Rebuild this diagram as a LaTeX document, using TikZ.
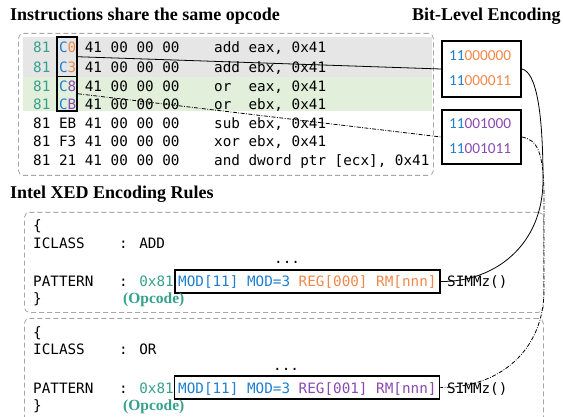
\documentclass[tikz,border=0pt]{standalone}
\usepackage{fontspec}
\setmainfont{Liberation Serif}
\newfontfamily\monof{DejaVu Sans Mono}[WordSpace={1,0,0}]
\newfontfamily\carlf{Carlito}
\definecolor{cblue}{HTML}{1E7FD0}
\definecolor{corange}{HTML}{F0884A}
\definecolor{cpurple}{HTML}{8A4AB0}
\definecolor{cteal}{HTML}{36A08C}
\definecolor{bandgray}{HTML}{E6E6E6}
\definecolor{bandgreen}{HTML}{E2EFDA}
\definecolor{pgray}{HTML}{A6A6A6}
\begin{document}
\begin{tikzpicture}[x=1pt,y=-1pt,
  mono/.style={anchor=base west, inner sep=0pt, font=\monof\fontsize{14.3}{16}\selectfont},
  ttl/.style={anchor=base west, inner sep=0pt, font=\bfseries\fontsize{18}{20}\selectfont},
  opc/.style={anchor=base west, inner sep=0pt, text=cteal, font=\bfseries\fontsize{15.5}{17}\selectfont},
  bits/.style={anchor=base west, inner sep=0pt, font=\carlf\fontsize{15.3}{17}\selectfont},
  panel/.style={draw=pgray, line width=0.8pt, dash pattern=on 5pt off 3pt, rounded corners=5pt, anchor=north west, inner sep=0pt},
  band/.style={anchor=north west, inner sep=0pt, minimum width=409pt},
  selbox/.style={draw=black, line width=1.8pt, inner sep=0pt, minimum width=20pt},
  bitbox/.style={draw=black, line width=1.8pt, inner sep=0pt, minimum width=79pt},
  patbox/.style={draw=black, line width=1.6pt, inner sep=0pt, minimum width=265pt, minimum height=23pt},
  link/.style={line width=0.8pt},
  dd/.style={line width=0.8pt, dash pattern=on 4pt off 1.5pt on 0.8pt off 1.5pt}
]
\useasboundingbox (0,0) rectangle (563,417);
\clip (0,0) rectangle (563,417);

% titles
\node[ttl] (t1) at (10,21) {Instructions share the same opcode};
\node[ttl] (t2) at (412,21) {Bit-Level Encoding};
\node[ttl] (t3) at (10,199) {Intel XED Encoding Rules};

% top panel
\node[band, fill=bandgray, minimum height=39.5pt] (g1) at (23,37) {};
\node[band, fill=bandgreen, minimum height=34.5pt] (g2) at (23,76.5) {};
\node[panel, minimum width=415pt, minimum height=142pt] (P0) at (18,33) {};

\node[mono] (h1) at (33,53) {\textcolor{cteal}{81} \textcolor{cblue}{C}\textcolor{corange}{0} 41 00 00 00};
\node[mono] (a1) at (214,53) {add eax, 0x41};
\node[mono] (h2) at (33,73) {\textcolor{cteal}{81} \textcolor{cblue}{C}\textcolor{corange}{3} 41 00 00 00};
\node[mono] (a2) at (214,73) {add ebx, 0x41};
\node[mono] (h3) at (33,92) {\textcolor{cteal}{81} \textcolor{cblue}{C}\textcolor{cpurple}{8} 41 00 00 00};
\node[mono] (a3) at (214,92) {or~ eax, 0x41};
\node[mono] (h4) at (33,110) {\textcolor{cteal}{81} \textcolor{cblue}{C}\textcolor{cpurple}{B} 41 00 00 00};
\node[mono] (a4) at (214,110) {or~ ebx, 0x41};
\node[mono] (h5) at (33,129) {81 EB 41 00 00 00};
\node[mono] (a5) at (214,129) {sub ebx, 0x41};
\node[mono] (h6) at (33,147) {81 F3 41 00 00 00};
\node[mono] (a6) at (214,147) {xor ebx, 0x41};
\node[mono] (h7) at (33,166) {81 21 41 00 00 00};
\node[mono] (a7) at (214,166) {and dword ptr [ecx], 0x41};

\node[selbox, minimum height=39.5pt] (s1) at (67,56.75) {};
\node[selbox, minimum height=34.5pt] (s2) at (67,93.75) {};

% bit-level boxes
\node[bitbox, minimum height=56pt] (b1) at (481.5,69) {};
\node[bitbox, minimum height=54pt] (b2) at (481.5,137) {};
\node[bits] (k1) at (449,61) {\textcolor{cblue}{11}\textcolor{corange}{000000}};
\node[bits] (k2) at (449,86) {\textcolor{cblue}{11}\textcolor{corange}{000011}};
\node[bits] (k3) at (449,129) {\textcolor{cblue}{11}\textcolor{cpurple}{001000}};
\node[bits] (k4) at (449,154) {\textcolor{cblue}{11}\textcolor{cpurple}{001011}};

% XED panels
\node[panel, minimum width=519pt, minimum height=100pt] (P1) at (24,212) {};
\node[panel, minimum width=519pt, minimum height=130pt] (P2) at (24,318) {};

\node[mono] (m1) at (33,231) {\{};
\node[mono] (m2) at (33,248) {ICLASS};
\node[mono] (m3) at (119,248) {: ADD};
\node[mono] (m4) at (274,264) {...};
\node[mono] (m5) at (33,287) {PATTERN};
\node[mono] (m6) at (119,287) {: \textcolor{cteal}{0x81}};
\node[patbox] (p1) at (307.5,281.5) {};
\node[mono] (m7) at (178,287) {\textcolor{cblue}{MOD[11] MOD=3} \textcolor{corange}{REG[000] RM[nnn]}};
\node[mono] (m8) at (447,287) {SIMMz()};
\node[mono] (m9) at (33,303) {\}};
\node[opc] (o1) at (123,303) {(Opcode)};

\node[mono] (n1) at (33,337) {\{};
\node[mono] (n2) at (33,354) {ICLASS};
\node[mono] (n3) at (119,354) {: OR};
\node[mono] (n4) at (273,370) {...};
\node[mono] (n5) at (33,393) {PATTERN};
\node[mono] (n6) at (119,393) {: \textcolor{cteal}{0x81}};
\node[patbox] (p2) at (307,387.5) {};
\node[mono] (n7) at (178,393) {\textcolor{cblue}{MOD[11] MOD=3} \textcolor{cpurple}{REG[001] RM[nnn]}};
\node[mono] (n8) at (447,393) {SIMMz()};
\node[mono] (n9) at (33,410) {\}};
\node[opc] (o2) at (123,410) {(Opcode)};

% connectors
\draw[link] (s1.east) -- (b1.west);
\draw[dd] (s2.east) -- (b2.west);
\draw[link] (b1.east) .. controls +(14,3) and (543,110) .. (543,180) .. controls (543,245) and (495,282) .. (p1.east);
\draw[dd] (b2.east) .. controls +(15,3) and (544,150) .. (544,200) -- (544,290) .. controls (544,350) and (500,388) .. (p2.east);
\end{tikzpicture}
\end{document}
